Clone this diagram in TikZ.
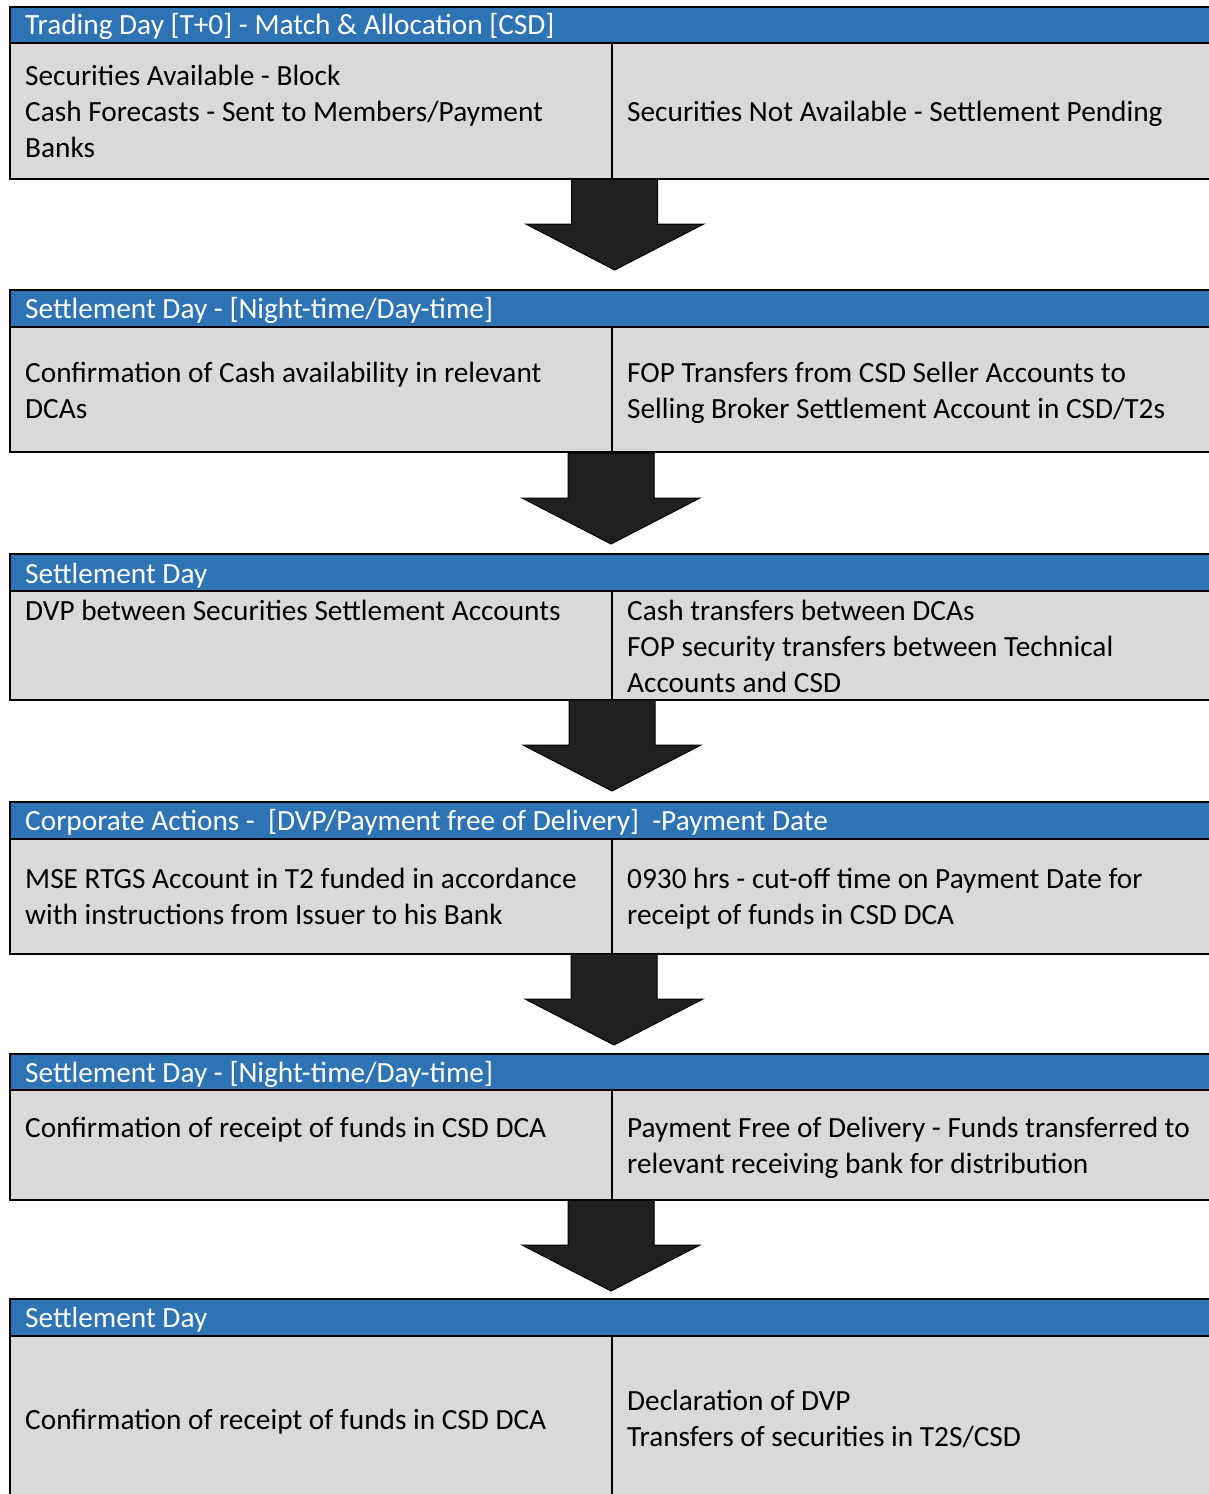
\documentclass[tikz,border=0pt]{standalone}
\usepackage{fontspec}
\setmainfont{Carlito}
\definecolor{hdrblue}{HTML}{2E74B5}
\definecolor{cellgray}{HTML}{D9D9D9}
\definecolor{arrowfill}{HTML}{221F1F}
\tikzset{
  frame/.style={draw=black, line width=2.4pt},
  txt/.style={anchor=north west, inner sep=0pt, align=left,
    font=\fontsize{29.3}{36}\selectfont},
  hdrtxt/.style={txt, text=white},
  celltxt/.style={txt, text=black},
  bigarrow/.pic={
    \draw[fill=arrowfill, draw=black, line width=1pt]
      (-43,0) -- (43,0) -- (43,45) -- (89,45) -- (0,91) -- (-89,45) -- (-43,45) -- cycle;
  }
}
% one stage: #1 name, #2 top, #3 header bottom, #4 bottom
\newcommand\drawstage[4]{%
  \path[fill=hdrblue] (10,#2) rectangle (1215,#3);
  \path[fill=cellgray] (10,#3) rectangle (1215,#4);
  \draw[frame] (10,#2) rectangle (1215,#4);
  \draw[frame] (10,#3) -- (1215,#3);
  \draw[frame] (612,#3) -- (612,#4);
  \coordinate (#1-top) at (612,#2);
  \coordinate (#1-bot) at (612,#4);
}
\begin{document}
\begin{tikzpicture}[x=1pt, y=-1pt]
\useasboundingbox (0,0) rectangle (1208,1494);
\fill[white] (0,0) rectangle (1208,1494);

\drawstage{s1}{7}{43}{179}
\drawstage{s2}{290}{327}{452}
\drawstage{s3}{554}{591}{700}
\drawstage{s4}{802}{839}{954}
\drawstage{s5}{1054}{1090}{1200}
\drawstage{s6}{1299}{1336}{1510}

% stage 1
\node[hdrtxt] (h1) at (25,8.8) {\strut Trading Day [T+0] - Match \& Allocation [CSD]};
\node[celltxt] (l1) at (25,59.8) {\strut Securities Available - Block\\\strut Cash Forecasts - Sent to Members/Payment\\\strut Banks};
\node[celltxt] (r1) at (627,95.8) {\strut Securities Not Available - Settlement Pending};

% stage 2
\node[hdrtxt] (h2) at (25,292.8) {\strut Settlement Day - [Night-time/Day-time]};
\node[celltxt] (l2) at (25,356.8) {\strut Confirmation of Cash availability in relevant\\\strut DCAs};
\node[celltxt] (r2) at (627,356.8) {\strut FOP Transfers from CSD Seller Accounts to\\\strut Selling Broker Settlement Account in CSD/T2s};

% stage 3
\node[hdrtxt] (h3) at (25,557.8) {\strut Settlement Day};
\node[celltxt] (l3) at (25,594.8) {\strut DVP between Securities Settlement Accounts};
\node[celltxt] (r3) at (627,594.8) {\strut Cash transfers between DCAs\\\strut FOP security transfers between Technical\\\strut Accounts and CSD};

% stage 4
\node[hdrtxt] (h4) at (25,804.8) {\strut Corporate Actions -\ \ [DVP/Payment free of Delivery]\ \ -Payment Date};
\node[celltxt] (l4) at (25,862.8) {\strut MSE RTGS Account in T2 funded in accordance\\\strut with instructions from Issuer to his Bank};
\node[celltxt] (r4) at (627,862.8) {\strut 0930 hrs - cut-off time on Payment Date for\\\strut receipt of funds in CSD DCA};

% stage 5
\node[hdrtxt] (h5) at (25,1056.8) {\strut Settlement Day - [Night-time/Day-time]};
\node[celltxt] (l5) at (25,1111.8) {\strut Confirmation of receipt of funds in CSD DCA};
\node[celltxt] (r5) at (627,1111.8) {\strut Payment Free of Delivery - Funds transferred to\\\strut relevant receiving bank for distribution};

% stage 6
\node[hdrtxt] (h6) at (25,1301.8) {\strut Settlement Day};
\node[celltxt] (l6) at (25,1403.8) {\strut Confirmation of receipt of funds in CSD DCA};
\node[celltxt] (r6) at (627,1384.8) {\strut Declaration of DVP\\\strut Transfers of securities in T2S/CSD};

% block arrows between stages
\pic at (614.7,179) {bigarrow};
\pic at (611,453) {bigarrow};
\pic at (612,700) {bigarrow};
\pic at (614,954) {bigarrow};
\pic at (611,1200) {bigarrow};
\end{tikzpicture}
\end{document}
